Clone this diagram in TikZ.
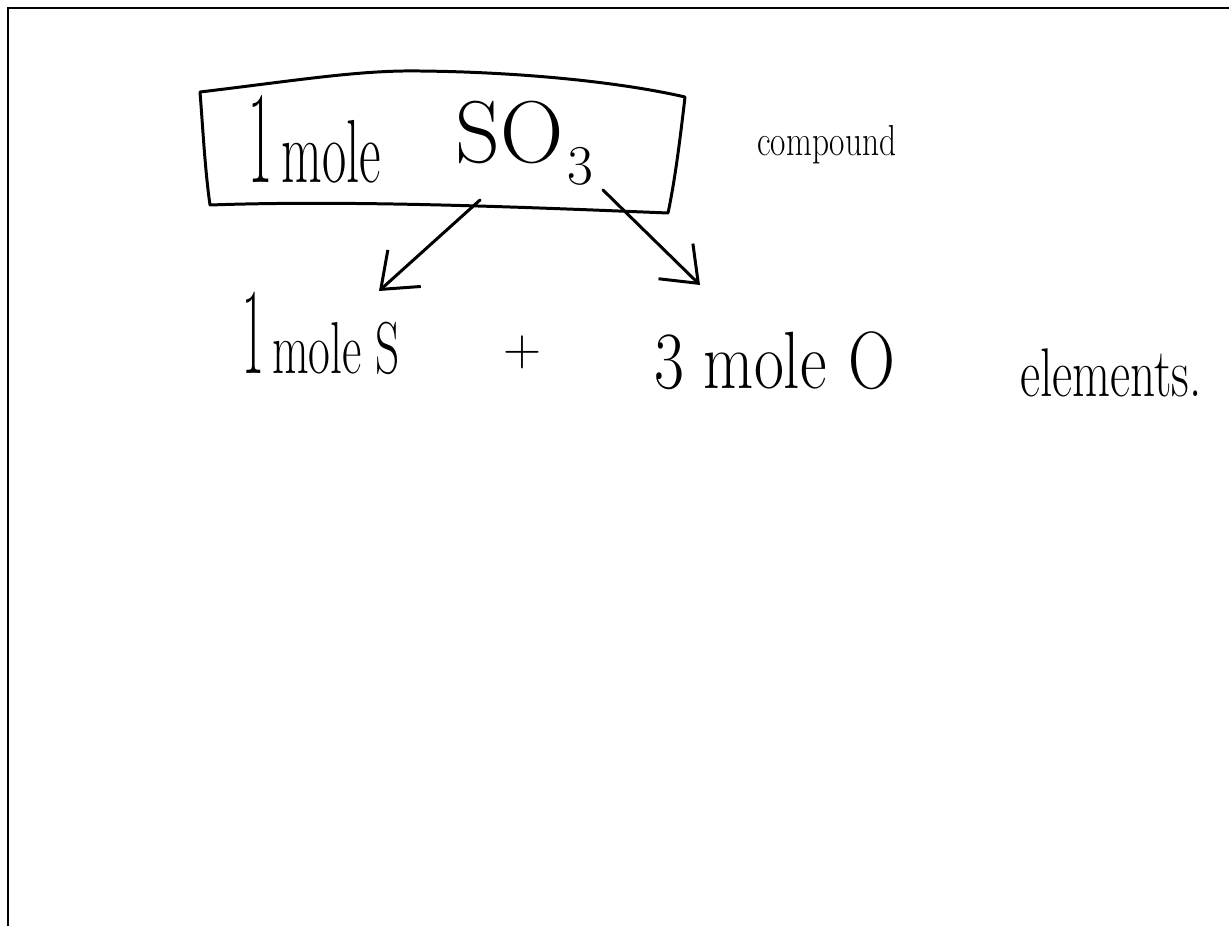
\documentclass[tikz,border=0pt]{standalone}
\usetikzlibrary{arrows.meta}
\newcommand{\tall}[2]{\scalebox{1}[#1]{#2}}
\begin{document}
\begin{tikzpicture}[x=0.02cm,y=-0.02cm,
  pen/.style={line width=1.7pt, line cap=round, line join=round},
  arr/.style={pen, -{Straight Barb[length=18pt,width=28pt,line width=1.7pt]}},
  txt/.style={inner sep=0pt, anchor=base west}]
\useasboundingbox (0,0) rectangle (1229,926);
% frame (left and top only)
\draw[line width=1.7pt] (8,926) -- (8,8) -- (1229,8);
% compound box (hand drawn outline)
\coordinate (b1) at (200,92);
\coordinate (b3) at (685,97);
\coordinate (b4) at (668,213);
\coordinate (b5) at (210,205);
\draw[pen] (b1) .. controls (300,80) and (360,70) .. (420,71)
  .. controls (520,72) and (620,82) .. (b3)
  .. controls (680,140) and (675,180) .. (b4)
  .. controls (520,207) and (350,200) .. (b5)
  .. controls (205,170) and (203,130) .. cycle;
\node[txt, font=\fontsize{30}{36}\selectfont] (one) at (248,182) {\tall{2.5}{1}\,\tall{1.7}{mole}};
\node[txt, font=\fontsize{50}{60}\selectfont] (so3) at (455,162)
  {SO\hspace{2pt}\raisebox{-0.45cm}{\fontsize{32}{36}\selectfont 3}};
\node[txt, font=\fontsize{19}{24}\selectfont] (lab) at (757,155) {\tall{1.3}{compound}};
% bottom row
\node[txt, font=\fontsize{27}{32}\selectfont] (s) at (242,373) {\tall{2.6}{1}\,\tall{1.55}{mole S}};
\node[inner sep=0pt, font=\fontsize{30}{36}\selectfont] (plus) at (522,352) {+};
\node[txt, font=\fontsize{37}{44}\selectfont] (o) at (654,388) {\tall{1.25}{3 mole\hspace{0.45cm}O}};
\node[txt, font=\fontsize{28}{34}\selectfont] (el) at (1020,396) {\tall{1.4}{elements.}};
% arrows
\coordinate (a1) at (480,200);
\coordinate (a2) at (603,190);
\coordinate (t1) at (379,291);
\coordinate (t2) at (700,285);
\draw[arr] (a1) -- (t1);
\draw[arr] (a2) -- (t2);
\end{tikzpicture}
\end{document}
